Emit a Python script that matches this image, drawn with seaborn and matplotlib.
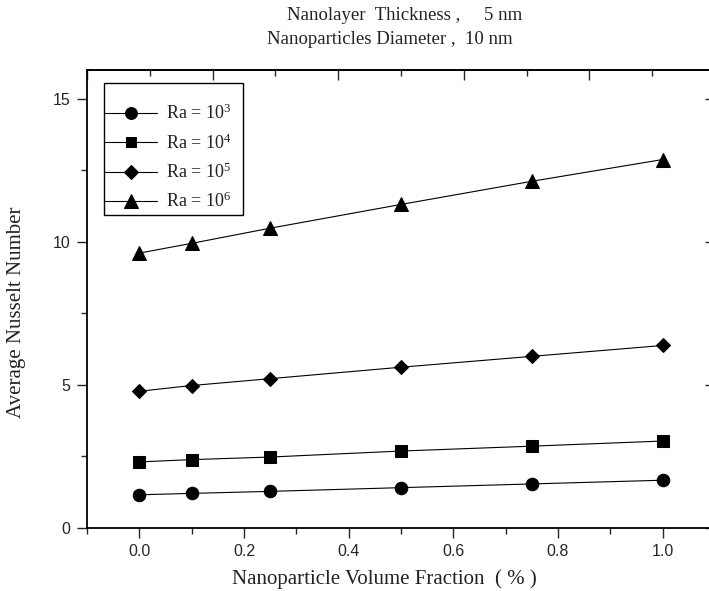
import numpy as np
import pandas as pd
import matplotlib
matplotlib.use("Agg")
import matplotlib.pyplot as plt
import seaborn as sns
from matplotlib.ticker import MultipleLocator, FixedLocator, NullFormatter
from matplotlib.patches import Rectangle

# ---- data ----
volume_fraction = [0.0, 0.1, 0.25, 0.5, 0.75, 1.0]
nu_ra3 = [1.15, 1.20, 1.27, 1.40, 1.53, 1.66]
nu_ra4 = [2.30, 2.38, 2.47, 2.68, 2.85, 3.03]
nu_ra5 = [4.77, 4.97, 5.21, 5.61, 5.99, 6.37]
nu_ra6 = [9.60, 9.94, 10.47, 11.30, 12.11, 12.87]
series_labels = [r"Ra = 10$^{3}$", r"Ra = 10$^{4}$", r"Ra = 10$^{5}$", r"Ra = 10$^{6}$"]
title_lines = ["Nanolayer  Thickness ,     5 nm", "Nanoparticles Diameter ,  10 nm"]
x_label = "Nanoparticle Volume Fraction  ( % )"
y_label = "Average Nusselt Number"

rows = []
for lab, vals in zip(series_labels, [nu_ra3, nu_ra4, nu_ra5, nu_ra6]):
    for xv, yv in zip(volume_fraction, vals):
        rows.append({"phi": xv, "Nu": yv, "Ra": lab})
df = pd.DataFrame(rows)

sns.set_style("ticks")
plt.rcParams["mathtext.default"] = "regular"
serif = ["Liberation Serif", "DejaVu Serif"]
sans = ["Liberation Sans", "DejaVu Sans"]
txt_color = "#222222"

W, H = 709, 591
AX_L, AX_R, AX_T, AX_B = 87, 715, 70, 527.7
fig = plt.figure(figsize=(W / 100, H / 100), dpi=100)
ax = fig.add_axes([AX_L / W, 1 - AX_B / H, (AX_R - AX_L) / W, (AX_B - AX_T) / H])


def px_to_axes(px, py):
    return (px - AX_L) / (AX_R - AX_L), (AX_B - py) / (AX_B - AX_T)


markers = dict(zip(series_labels, ["o", "s", "D", "^"]))
sns.lineplot(data=df, x="phi", y="Nu", style="Ra", style_order=series_labels,
             markers=markers, dashes=False, color="black", linewidth=0.8,
             markersize=9, markeredgecolor="black", ax=ax)
for ln in ax.lines:
    if ln.get_marker() == "D":
        ln.set_markersize(7.5)
    elif ln.get_marker() == "s":
        ln.set_markersize(8)
    elif ln.get_marker() == "^":
        ln.set_markersize(10)

ax.set_xlim(-0.1, 1.1)
ax.set_ylim(0, 16)
ax.xaxis.set_major_locator(MultipleLocator(0.2))
ax.xaxis.set_minor_locator(MultipleLocator(0.1))
ax.yaxis.set_major_locator(MultipleLocator(5))
ax.yaxis.set_minor_locator(MultipleLocator(2.5))
ax.xaxis.set_major_formatter(matplotlib.ticker.FormatStrFormatter("%.1f"))
ax.tick_params(axis="both", which="major", direction="out", length=7, width=1.0,
               labelsize=11.5, pad=5)
ax.tick_params(axis="both", which="minor", direction="out", length=4.5, width=1.0)
for lbl in ax.get_xticklabels() + ax.get_yticklabels():
    lbl.set_fontfamily(sans)

for sp in ax.spines.values():
    sp.set_linewidth(1.3)
    sp.set_color("black")
    sp.set_visible(True)

# top axis with inward ticks
top = ax.secondary_xaxis("top")
top.xaxis.set_major_locator(FixedLocator(list(np.linspace(-0.1, 1.1, 6))))
top.xaxis.set_minor_locator(FixedLocator(list(np.linspace(-0.1, 1.1, 11))))
top.xaxis.set_major_formatter(NullFormatter())
top.tick_params(axis="x", which="major", direction="in", length=7, width=1.0)
top.tick_params(axis="x", which="minor", direction="in", length=4.5, width=1.0)
top.spines["top"].set_linewidth(1.3)

right = ax.secondary_yaxis("right")
right.yaxis.set_major_locator(MultipleLocator(5))
right.yaxis.set_major_formatter(NullFormatter())
right.tick_params(axis="y", which="major", direction="in", length=7, width=1.0)
right.spines["right"].set_linewidth(1.3)

ax.set_xlabel("")
ax.set_ylabel("")
fig.text(384 / W, 1 - 579 / H, x_label, ha="center", va="center",
         fontsize=15, family=serif, color=txt_color)
fig.text(17 / W, 1 - 312 / H, y_label, ha="center", va="center", rotation=90,
         fontsize=15, family=serif, color=txt_color)

fig.text(405 / W, 1 - 15 / H, title_lines[0], ha="center", va="center",
         fontsize=13.5, family=serif, color=txt_color)
fig.text(390 / W, 1 - 40 / H, title_lines[1], ha="center", va="center",
         fontsize=13.5, family=serif, color=txt_color)

# legend (no frame; frame drawn separately to match reference padding)
handles, labels = ax.get_legend_handles_labels()
lx, ly = px_to_axes(105, 104)
leg = ax.legend(handles, labels, loc="upper left", bbox_to_anchor=(lx, ly),
                borderaxespad=0, frameon=False,
                prop={"family": serif, "size": 13}, handlelength=2.9,
                handletextpad=0.5, labelspacing=0.55, borderpad=0)
for t in leg.get_texts():
    t.set_color(txt_color)
for h in leg.legend_handles:
    try:
        h.set_markersize(h.get_markersize() * 0.95)
    except Exception:
        pass

fx0, fy1 = px_to_axes(104, 83)
fx1, fy0 = px_to_axes(243, 215)
ax.add_patch(Rectangle((fx0, fy0), fx1 - fx0, fy1 - fy0, transform=ax.transAxes,
                       fill=False, edgecolor="black", linewidth=1.0, zorder=5))

fig.savefig("out.png", dpi=100)
